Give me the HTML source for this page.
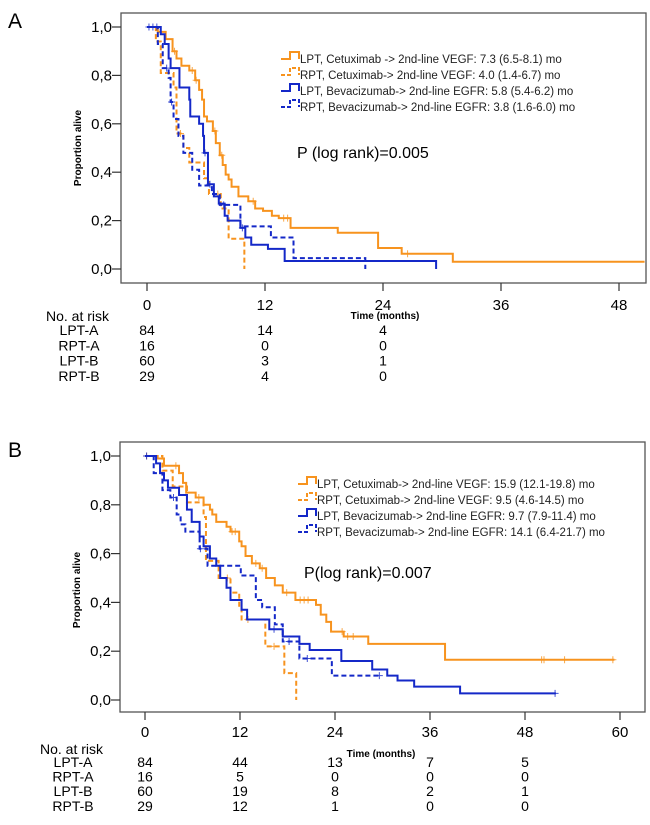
<!DOCTYPE html>
<html><head><meta charset="utf-8"><style>
body{margin:0;background:#fff;}
svg{display:block;font-family:"Liberation Sans",sans-serif;}
</style></head><body>
<svg id="c" width="650" height="825" viewBox="0 0 650 825"></svg>
<script>
// ---------- Panel A data ----------
const aXTicks=[0,12,24,36,48];
const aYTicks=[0,0.2,0.4,0.6,0.8,1.0];
const aLptATimes=[0,1.1,1.9,2.6,3.0,3.5,4.3,4.9,5.3,5.6,5.8,6.1,6.7,7.0,7.4,7.7,8.0,8.3,8.6,9.3,10.3,11.0,11.8,12.7,13.4,14.6,19.4,23.5,25.9,31.1];
const aLptAVals=[1,0.98,0.95,0.9,0.87,0.84,0.82,0.78,0.74,0.70,0.63,0.61,0.57,0.52,0.47,0.43,0.39,0.37,0.34,0.30,0.28,0.25,0.24,0.22,0.21,0.17,0.15,0.087,0.063,0.03];
const aLptAEnd=50.6;
const aLptACens=[2.8,4.6,5.0,6.9,7.6,10.8,13.9,14.3,26.5];
const aRptATimes=[0,0.9,1.4,2.7,3.0,3.7,4.3,5.8,6.3,7.5,8.3,9.9];
const aRptAVals=[1,0.94,0.81,0.75,0.56,0.50,0.44,0.375,0.31,0.25,0.125,0];
const aRptAEnd=9.9;
const aRptACens=[3.4,7.2];
const aLptBTimes=[0,1.4,1.8,2.2,2.4,3.3,4.3,4.4,5.3,5.7,5.8,6.2,6.8,7.3,7.9,8.2,9.5,10.0,10.6,12.3,14.0,29.4];
const aLptBVals=[1,0.97,0.93,0.87,0.83,0.75,0.70,0.63,0.60,0.55,0.48,0.35,0.30,0.27,0.22,0.20,0.17,0.13,0.10,0.083,0.033,0];
const aLptBEnd=29.4;
const aLptBCens=[0.2,0.6,1.0,5.9,6.4,9.7];
const aRptBTimes=[0,1.1,1.6,2.2,2.4,2.7,3.2,3.7,4.6,5.3,6.6,7.4,9.5,12.6,14.9,22.2];
const aRptBVals=[1,0.93,0.83,0.79,0.69,0.62,0.55,0.48,0.41,0.345,0.31,0.265,0.176,0.13,0.045,0];
const aRptBEnd=22.2;
const aRptBCens=[2.0,2.5,7.8];
const aRiskLabels=["LPT-A","RPT-A","LPT-B","RPT-B"];
const aRiskTimes=[0,12,24];
const aRisk=[[84,14,4],[16,0,0],[60,3,1],[29,4,0]];
// ---------- Panel B data ----------
const bXTicks=[0,12,24,36,48,60];
const bYTicks=[0,0.2,0.4,0.6,0.8,1.0];
const bLptATimes=[0,1.6,2.4,4.3,4.8,5.2,6.4,7.4,8.2,8.5,9.0,10.3,10.8,11.9,12.2,12.7,13.5,14.5,15.3,16.4,17.4,19.0,21.6,22.2,22.9,23.5,25.1,28.2,37.9];
const bLptAVals=[1,0.99,0.96,0.93,0.89,0.85,0.83,0.80,0.78,0.76,0.73,0.71,0.69,0.65,0.63,0.59,0.56,0.54,0.50,0.47,0.44,0.41,0.39,0.35,0.32,0.28,0.26,0.23,0.165];
const bLptAEnd=59.3;
const bLptACens=[0.2,3.9,6.8,11.0,11.4,14.0,14.8,17.9,19.6,20.1,20.6,24.9,25.6,26.3,50.1,50.4,53.0,59.1];
const bRptATimes=[0,2.2,3.5,5.3,7.4,7.7,9.3,10.8,11.9,12.2,15.2,17.6,19.1];
const bRptAVals=[1,0.94,0.875,0.81,0.75,0.57,0.50,0.44,0.38,0.33,0.22,0.11,0];
const bRptAEnd=19.1;
const bRptACens=[10.4,13.0,16.3];
const bLptBTimes=[0,1.4,1.9,2.4,2.9,4.3,5.3,5.9,6.9,7.4,8.2,9.0,9.5,10.3,10.8,12.2,12.9,15.7,17.4,19.5,20.8,24.8,28.7,30.6,31.9,34.0,39.8];
const bLptBVals=[1,0.97,0.93,0.90,0.87,0.84,0.78,0.73,0.67,0.63,0.58,0.55,0.50,0.46,0.41,0.37,0.33,0.29,0.26,0.23,0.205,0.16,0.125,0.10,0.08,0.055,0.027];
const bLptBEnd=51.9;
const bLptBCens=[0.2,16.3,51.8];
const bRptBTimes=[0,1.1,2.2,3.2,4.0,4.5,5.1,6.9,7.9,12.1,14.0,14.8,16.4,17.4,19.5,23.6];
const bRptBVals=[1,0.93,0.86,0.83,0.76,0.72,0.69,0.62,0.55,0.51,0.41,0.38,0.31,0.24,0.17,0.10];
const bRptBEnd=29.8;
const bRptBCens=[3.6,7.0,18.2,20.5,29.6];
const bRiskTimes=[0,12,24,36,48];
const bRisk=[[84,44,13,7,5],[16,5,0,0,0],[60,19,8,2,1],[29,12,1,0,0]];

const OR="#f7931e", BL="#1428c8";
const svg=document.getElementById('c');
const NS="http://www.w3.org/2000/svg";
function el(tag,attrs,parent,txt){const e=document.createElementNS(NS,tag);for(const k in attrs)e.setAttribute(k,attrs[k]);if(txt!==undefined)e.textContent=txt;(parent||svg).appendChild(e);return e;}
function survAt(s,t){let v=s.v[0];for(let i=0;i<s.t.length;i++){if(s.t[i]<=t)v=s.v[i];}return v;}

function panel(P){
  const g=el('g',{});
  
  
  const sx=t=>P.x0+(P.x12-P.x0)*t/12;
  const sy=v=>P.y0+(P.y1-P.y0)*v;
  const letter=el('text',{x:8,y:P.letterY,'font-size':21,fill:'#000'},g,P.letter);
  
  
  const fr=el('rect',{x:P.fl,y:P.ft,width:P.fr-P.fl,height:P.fb-P.ft,fill:'none',stroke:'#555','stroke-width':1.3},g);
  
  
  P.yTicks.forEach(v=>{
    el('line',{x1:P.fl-9,x2:P.fl,y1:sy(v),y2:sy(v),stroke:'#333','stroke-width':1.2},g);
    const t=el('text',{x:P.fl-9,y:sy(v)+5,'font-size':15,'text-anchor':'end',fill:'#000'},g,v.toFixed(1).replace('.',','));
    
    
  });
  P.xTicks.forEach(v=>{
    el('line',{x1:sx(v),x2:sx(v),y1:P.fb,y2:P.fb+8,stroke:'#333','stroke-width':1.2},g);
    const t=el('text',{x:sx(v),y:P.xLabY,'font-size':15,'text-anchor':'middle',fill:'#000'},g,String(v));
    
    
  });
  const yl=el('text',{x:0,y:0,'font-size':10,'font-weight':'bold','text-anchor':'middle',transform:`translate(${P.yTitleX},${P.yTitleY}) rotate(-90)`},g,'Proportion alive');
  
  
  const xl=el('text',{x:P.xTitleX,y:P.xTitleY,'font-size':10,'font-weight':'bold','text-anchor':'middle'},g,'Time (months)');
  
  
  P.series.forEach(s=>{
    let d=`M${sx(s.t[0])},${sy(s.v[0])}`;
    for(let i=1;i<s.t.length;i++){d+=`H${sx(s.t[i])}V${sy(s.v[i])}`;}
    d+=`H${sx(s.end)}`;
    const p=el('path',{d:d,fill:'none',stroke:s.c,'stroke-width':2,'stroke-dasharray':s.dash?'5,3':'none'},g);
    
    
    s.cens.forEach(ct=>{
      const cx=sx(ct), cy=sy(survAt(s,ct));
      const m=el('path',{d:`M${cx-3.5},${cy}H${cx+3.5}M${cx},${cy-3.5}V${cy+3.5}`,stroke:s.c,'stroke-width':1,opacity:0.8},g);
      
      
    });
  });
  P.legend.forEach((L,i)=>{
    const y=P.legY+i*P.legDy;
    const x=P.legX;
    el('path',{d:`M${x},${y-1}H${x+9}V${y-8}H${x+18}V${y-1}`,fill:'none',stroke:L.c,'stroke-width':2,'stroke-dasharray':L.dash?'4,2':'none'},g);
    const t=el('text',{x:x+19,y:y+3,'font-size':11.5,fill:'#222'},g,L.text);
    
    
  });
  const pv=el('text',{x:P.pX,y:P.pY,'font-size':16,fill:'#000'},g,P.pText);
  
  
  const nr=el('text',{x:P.riskLabelX-33,y:P.riskHeadY,'font-size':14,fill:'#000'},g,'No. at risk');
  
  
  aRiskLabels.forEach((lab,r)=>{
    const y=P.riskY0+r*P.riskDy;
    const t=el('text',{x:P.riskLabelX,y:y,'font-size':14,'text-anchor':'middle'},g,lab);
    
    
    P.riskTimes.forEach((tm,j)=>{
      const c=el('text',{x:sx(tm),y:y,'font-size':14,'text-anchor':'middle'},g,String(P.risk[r][j]));
      
      
    });
  });
}

panel({name:'panel-a',letter:'A',letterY:28,fl:121,fr:646,ft:13,fb:283,x0:147,x12:265,y0:269,y1:27,
  xTicks:aXTicks,yTicks:aYTicks,xLabY:310,yTitleX:81,yTitleY:148,xTitleX:385,xTitleY:319,
  series:[
    {name:'lpt-a-curve',t:aLptATimes,v:aLptAVals,end:aLptAEnd,cens:aLptACens,c:OR,dash:false},
    {name:'rpt-a-curve',t:aRptATimes,v:aRptAVals,end:aRptAEnd,cens:aRptACens,c:OR,dash:true},
    {name:'lpt-b-curve',t:aLptBTimes,v:aLptBVals,end:aLptBEnd,cens:aLptBCens,c:BL,dash:false},
    {name:'rpt-b-curve',t:aRptBTimes,v:aRptBVals,end:aRptBEnd,cens:aRptBCens,c:BL,dash:true}],
  legX:281,legY:60,legDy:16,
  legend:[{c:OR,dash:false,text:'LPT, Cetuximab -> 2nd-line VEGF: 7.3 (6.5-8.1) mo'},
    {c:OR,dash:true,text:'RPT, Cetuximab-> 2nd-line VEGF: 4.0 (1.4-6.7) mo'},
    {c:BL,dash:false,text:'LPT, Bevacizumab-> 2nd-line EGFR: 5.8 (5.4-6.2) mo'},
    {c:BL,dash:true,text:'RPT, Bevacizumab-> 2nd-line EGFR: 3.8 (1.6-6.0) mo'}],
  pX:297,pY:158,pText:'P (log rank)=0.005',
  riskLabelX:79,riskHeadY:321,riskY0:335,riskDy:15.3,riskTimes:aRiskTimes,risk:aRisk});

panel({name:'panel-b',letter:'B',letterY:457,fl:120,fr:645,ft:442,fb:712,x0:145,x12:240,y0:700,y1:456,
  xTicks:bXTicks,yTicks:bYTicks,xLabY:737,yTitleX:80,yTitleY:590,xTitleX:381,xTitleY:757,
  series:[
    {name:'lpt-a-curve',t:bLptATimes,v:bLptAVals,end:bLptAEnd,cens:bLptACens,c:OR,dash:false},
    {name:'rpt-a-curve',t:bRptATimes,v:bRptAVals,end:bRptAEnd,cens:bRptACens,c:OR,dash:true},
    {name:'lpt-b-curve',t:bLptBTimes,v:bLptBVals,end:bLptBEnd,cens:bLptBCens,c:BL,dash:false},
    {name:'rpt-b-curve',t:bRptBTimes,v:bRptBVals,end:bRptBEnd,cens:bRptBCens,c:BL,dash:true}],
  legX:298,legY:485,legDy:16,
  legend:[{c:OR,dash:false,text:'LPT, Cetuximab-> 2nd-line VEGF: 15.9 (12.1-19.8) mo'},
    {c:OR,dash:true,text:'RPT, Cetuximab-> 2nd-line VEGF: 9.5 (4.6-14.5) mo'},
    {c:BL,dash:false,text:'LPT, Bevacizumab-> 2nd-line EGFR: 9.7 (7.9-11.4) mo'},
    {c:BL,dash:true,text:'RPT, Bevacizumab-> 2nd-line EGFR: 14.1 (6.4-21.7) mo'}],
  pX:304,pY:578,pText:'P(log rank)=0.007',
  riskLabelX:73,riskHeadY:754,riskY0:767,riskDy:14.6,riskTimes:bRiskTimes,risk:bRisk});
</script>
</body></html>
